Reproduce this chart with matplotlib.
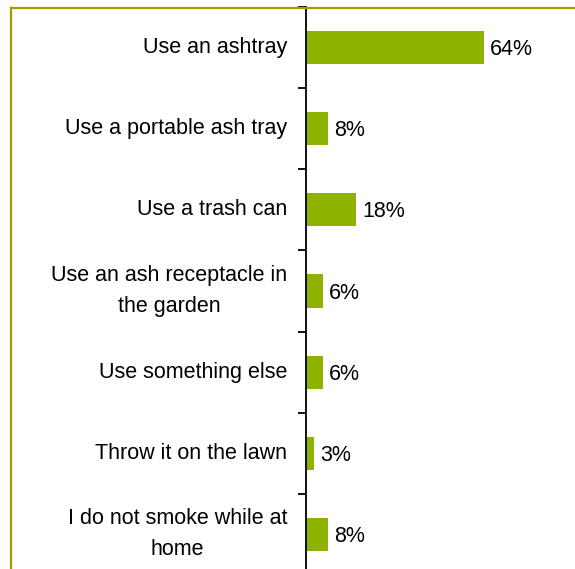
import matplotlib
matplotlib.use("Agg")
import matplotlib.pyplot as plt
from matplotlib.lines import Line2D
import numpy as np

categories = [
    "Use an ashtray",
    "Use a portable ash tray",
    "Use a trash can",
    "Use an ash receptacle in\nthe garden",
    "Use something else",
    "Throw it on the lawn",
    "I do not smoke while at\nhome",
]
values = [64, 8, 18, 6, 6, 3, 8]

BAR_COLOR = "#8EB200"
FRAME_COLOR = "#A39E00"
FONT = "Liberation Sans"

W, H = 575, 569
fig = plt.figure(figsize=(W / 100, H / 100), dpi=100)

# olive frame around the chart area (only left and top edges are visible)
fig.add_artist(Line2D([11 / W, 11 / W], [0, 1 - 8 / H], transform=fig.transFigure,
                      color=FRAME_COLOR, lw=1.6))
fig.add_artist(Line2D([11 / W, 1], [1 - 8 / H, 1 - 8 / H], transform=fig.transFigure,
                      color=FRAME_COLOR, lw=1.6))

ax = fig.add_axes([306 / W, -6 / H, 278 / W, 568 / H])
ax.patch.set_alpha(0)

y = np.arange(len(categories))
ax.barh(y, values, height=0.41, color=BAR_COLOR, zorder=2)

ax.set_xlim(0, 100)
ax.set_ylim(len(categories) - 0.5, -0.5)

for s in ("top", "right", "bottom"):
    ax.spines[s].set_visible(False)
ax.spines["left"].set_linewidth(1.3)
ax.set_xticks([])

ax.set_yticks(y)
ax.set_yticklabels(categories, fontsize=15.5, family=FONT, ha="right", va="center",
                   multialignment="center", linespacing=1.62)
ax.tick_params(axis="y", which="major", length=0, pad=13.5)
ax.set_yticks(np.arange(-0.5, len(categories)), minor=True)
ax.tick_params(axis="y", which="minor", length=5.8, width=1.3, direction="out")

for yi, v in zip(y, values):
    ax.annotate(f"{v}%", xy=(v, yi), xytext=(4.5, -1.5), textcoords="offset points",
                va="center", ha="left", fontsize=15.5, family=FONT)

fig.savefig("out.png", dpi=100)
